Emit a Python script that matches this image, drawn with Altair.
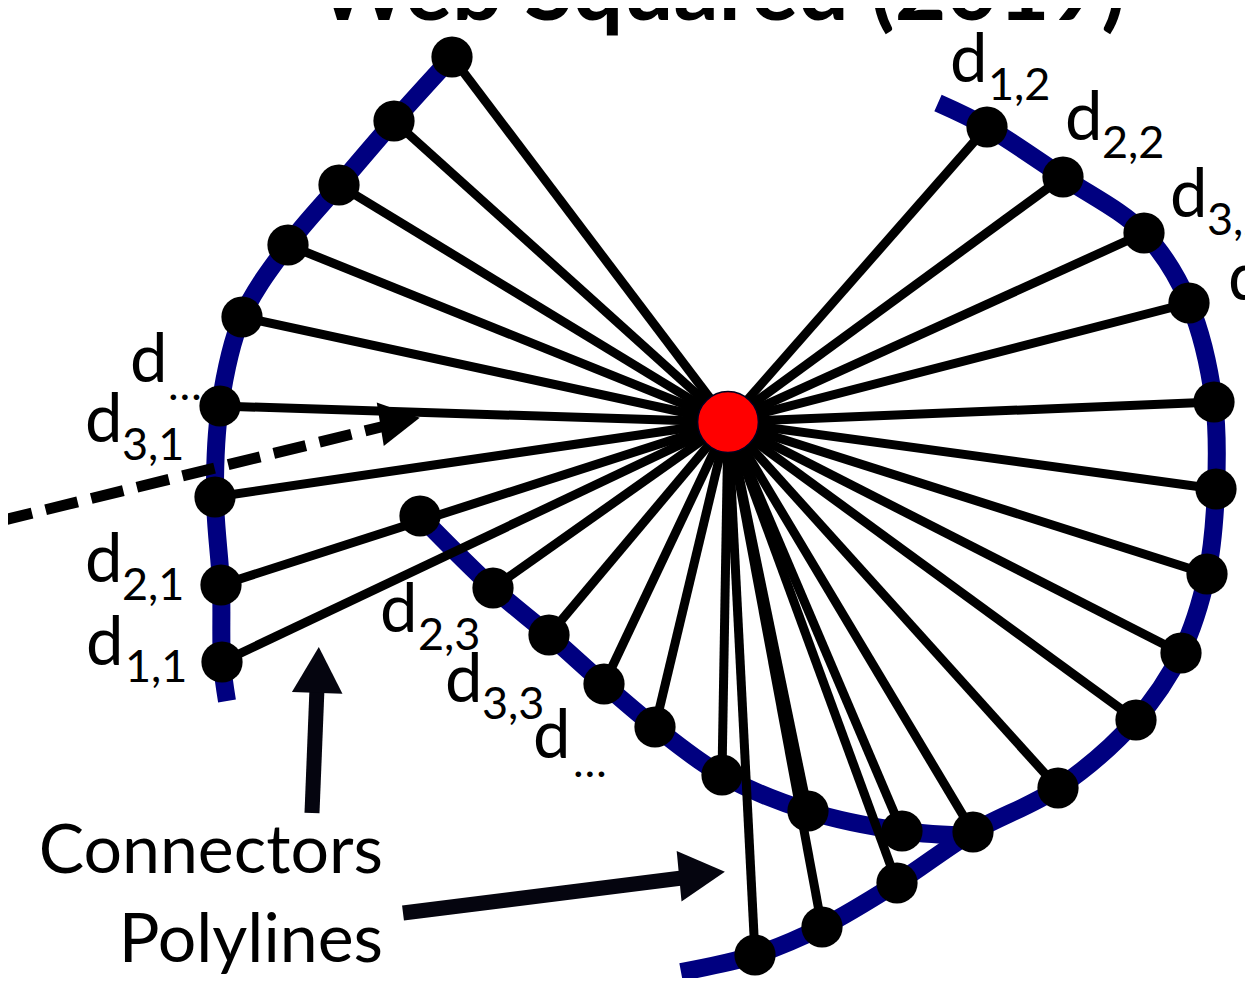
import altair as alt
import pandas as pd

# ---------------- data ----------------
title_text = "Web Squared (2019)"
title_x = [721]
title_y = [20]

center_x = [728]
center_y = [422]

# blue polylines (pixel-like coordinates, y downwards)
left_curve_x = [452, 394, 339, 288, 242, 220, 215, 221, 222, 227]
left_curve_y = [57, 121, 185, 245, 317, 406, 497, 585, 662, 701]
right_curve_x = [938, 987, 1063, 1144, 1189, 1214, 1216, 1207, 1181, 1136, 1058, 973, 897, 822, 755, 681]
right_curve_y = [103, 127, 177, 233, 303, 402, 489, 574, 653, 720, 788, 832, 883, 927, 955, 972]
mid_curve_x = [420, 493, 549, 604, 655, 722, 808, 902, 973]
mid_curve_y = [516, 588, 635, 684, 727, 775, 811, 831, 836]

# vertices (dots)
left_dot_x = [452, 394, 339, 288, 242, 220, 215, 221, 222]
left_dot_y = [57, 121, 185, 245, 317, 406, 497, 585, 662]
right_dot_x = [987, 1063, 1144, 1189, 1214, 1216, 1207, 1181, 1136, 1058, 973, 897, 822, 755]
right_dot_y = [127, 177, 233, 303, 402, 489, 574, 653, 720, 788, 832, 883, 927, 955]
mid_dot_x = [420, 493, 549, 604, 655, 722, 808, 902]
mid_dot_y = [516, 588, 635, 684, 727, 775, 811, 831]

# labels d_{i,j}
lab_main = ["d", "d", "d", "d", "d", "d", "d", "d", "d", "d", "d"]
lab_main_x = [130, 85, 85, 86, 380, 445, 533, 950, 1065, 1170, 1228]
lab_main_y = [382, 442, 582, 665, 632, 702, 758, 82, 140, 217, 300]
lab_sub = ["…", "3,1", "2,1", "1,1", "2,3", "3,3", "…", "1,2", "2,2", "3,2"]
lab_sub_x = [168, 122, 122, 125, 418, 482, 573, 988, 1102, 1207]
lab_sub_y = [400, 460, 600, 682, 650, 719, 777, 100, 158, 235]

word_text = ["Connectors", "Polylines"]
word_x = [383, 383]
word_y = [873, 962]

# arrows
dash_x, dash_y, dash_x2, dash_y2 = [0], [521], [385], [426]
shaft_x = [312, 403]
shaft_y = [813, 913]
shaft_x2 = [317, 682]
shaft_y2 = [688, 878]
head_x = [400, 318, 702]
head_y = [421, 670, 874]
head_angle = [350.8, 272, 354.5]
head_size = [1600, 2116, 2116]
head_color = ["#000000", "#05050f", "#05050f"]

# ---------------- tables ----------------
curves = pd.concat([
    pd.DataFrame({"x": left_curve_x, "y": left_curve_y, "curve": "left", "i": range(len(left_curve_x))}),
    pd.DataFrame({"x": right_curve_x, "y": right_curve_y, "curve": "right", "i": range(len(right_curve_x))}),
    pd.DataFrame({"x": mid_curve_x, "y": mid_curve_y, "curve": "mid", "i": range(len(mid_curve_x))}),
])

dots = pd.DataFrame({"x": left_dot_x + right_dot_x + mid_dot_x,
                     "y": left_dot_y + right_dot_y + mid_dot_y})
conn = dots[~((dots.x == mid_dot_x[0]) & (dots.y == mid_dot_y[0]))].copy()
conn["x2"] = center_x[0]
conn["y2"] = center_y[0]

center = pd.DataFrame({"x": center_x, "y": center_y})
main_lab = pd.DataFrame({"x": lab_main_x, "y": lab_main_y, "t": lab_main})
sub_lab = pd.DataFrame({"x": lab_sub_x, "y": lab_sub_y, "t": lab_sub})
words = pd.DataFrame({"x": word_x, "y": word_y, "t": word_text})
title_df = pd.DataFrame({"x": title_x, "y": title_y, "t": [title_text]})
dash = pd.DataFrame({"x": dash_x, "y": dash_y, "x2": dash_x2, "y2": dash_y2})
shafts = pd.DataFrame({"x": shaft_x, "y": shaft_y, "x2": shaft_x2, "y2": shaft_y2})
heads = pd.DataFrame({"x": head_x, "y": head_y, "a": head_angle, "s": head_size, "c": head_color})

W, H = 1237, 970
xs = alt.Scale(domain=[8, 8 + W], nice=False, zero=False)
ys = alt.Scale(domain=[8, 8 + H], nice=False, zero=False, reverse=True)
X = alt.X("x:Q", scale=xs, axis=None)
Y = alt.Y("y:Q", scale=ys, axis=None)
X2 = alt.X2("x2:Q")
Y2 = alt.Y2("y2:Q")

FONT = "Lato"

curve_layer = alt.Chart(curves).mark_line(
    color="#000080", strokeWidth=18, interpolate="catmull-rom", strokeCap="butt"
).encode(x=X, y=Y, detail="curve:N", order="i:Q")

conn_layer = alt.Chart(conn).mark_rule(color="black", strokeWidth=9).encode(x=X, y=Y, x2=X2, y2=Y2)

dash_layer = alt.Chart(dash).mark_rule(color="black", strokeWidth=11, strokeDash=[33, 14]).encode(
    x=X, y=Y, x2=X2, y2=Y2)

shaft_layer = alt.Chart(shafts).mark_rule(color="#05050f", strokeWidth=15).encode(x=X, y=Y, x2=X2, y2=Y2)

head_layer = alt.Chart(heads).mark_point(
    shape="M1,0L-1,-1.1L-1,1.1Z", filled=True, opacity=1, strokeWidth=0
).encode(x=X, y=Y, angle=alt.Angle("a:Q", scale=None), size=alt.Size("s:Q", scale=None),
         color=alt.Color("c:N", scale=None))

dot_layer = alt.Chart(dots).mark_circle(color="black", size=1700, opacity=1).encode(x=X, y=Y)

center_layer = alt.Chart(center).mark_point(
    shape="circle", filled=True, fill="red", stroke="#000020", strokeWidth=1.5, size=3700, opacity=1
).encode(x=X, y=Y)

main_text = alt.Chart(main_lab).mark_text(
    font=FONT, fontSize=67, align="left", baseline="alphabetic", color="black"
).encode(x=X, y=Y, text="t:N")

sub_text = alt.Chart(sub_lab).mark_text(
    font=FONT, fontSize=45, align="left", baseline="alphabetic", color="black"
).encode(x=X, y=Y, text="t:N")

word_layer = alt.Chart(words).mark_text(
    font=FONT, fontSize=68, align="right", baseline="alphabetic", color="black"
).encode(x=X, y=Y, text="t:N")

title_layer = alt.Chart(title_df).mark_text(
    font=FONT, fontSize=89, fontWeight="bold", align="center", baseline="alphabetic", color="black"
).encode(x=X, y=Y, text="t:N")

chart = alt.layer(
    curve_layer, conn_layer, dash_layer, dot_layer, center_layer,
    shaft_layer, head_layer, main_text, sub_text, word_layer, title_layer
).properties(
    width=W, height=H, padding=0, autosize=alt.AutoSizeParams(type="none"), background="white"
).configure_view(strokeWidth=0)

chart.save("out.html", embed_options={"renderer": "svg", "actions": False})
